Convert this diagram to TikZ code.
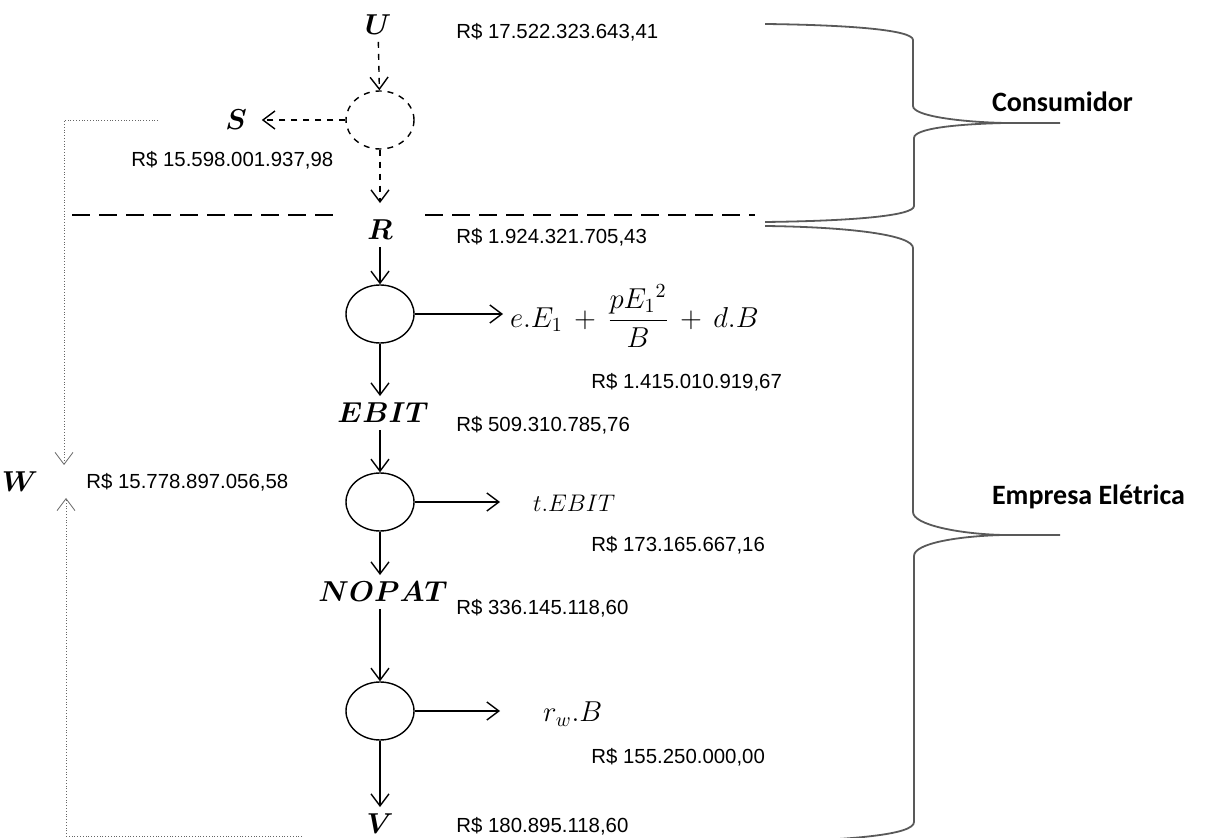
\documentclass[tikz,border=0pt]{standalone}
\usepackage{amsmath}
\usepackage{fontspec}
\setmainfont{Liberation Sans}
\newfontfamily\calibri{Carlito}
\usetikzlibrary{arrows.meta,shapes.geometric}
\newcommand{\real}[1]{R\$ #1}
\newcommand{\bvar}[1]{$\boldsymbol{#1}$}

\begin{document}
\begin{tikzpicture}[x=0.5pt,y=-0.5pt,
  var/.style={font=\Large},
  money/.style={anchor=west,inner sep=0.5pt,font=\fontsize{10.2}{12}\selectfont},
  sum/.style={draw,line width=0.7pt,ellipse,inner sep=0pt,minimum width=34pt,minimum height=29pt},
  flow/.style={line width=0.7pt,-{Straight Barb[length=6pt,width=9pt]}},
  part/.style={anchor=west,font=\calibri\bfseries\fontsize{14}{16}\selectfont},
  brace/.style={draw=black!65,line width=0.9pt},
  feedback/.style={draw=black!60,densely dotted,-{Straight Barb[length=6pt,width=9pt]}}]
\useasboundingbox (0,0) rectangle (1208,838);

% consumer side
\node[var] (U) at (378,25) {\bvar{U}};
\node[sum,dashed] (c0) at (380,120) {};
\node[var] (S) at (236,120) {\bvar{S}};
\node[var] (R) at (380,230) {\bvar{R}};
\draw[flow,dashed] (U) -- (c0);
\draw[flow,dashed] (c0) -- (S) [shorten >=4pt];
\draw[flow,dashed,shorten >=5pt] (c0) -- (R);

% border
\draw[line width=0.6pt,dash pattern=on 9pt off 4.5pt] (72,215) -- (333,215)
                                                     (425,215) -- (755,215);

% company side
\node[sum] (c1) at (380,314) {};
\node[var] (EBIT) at (383,413) {\bvar{EBIT}};
\node[sum] (c2) at (380,502) {};
\node[var] (NOPAT) at (383,592) {\bvar{NOPAT}};
\node[sum] (c3) at (380,711) {};
\node[var] (V) at (380,824) {\bvar{V}};
\draw[flow] (R) -- (c1);
\draw[flow] (c1.south) -- (c1.south |- EBIT.north);
\draw[flow] (EBIT.south -| c2) -- (c2);
\draw[flow] (c2.south) -- (c2.south |- NOPAT.north);
\draw[flow] (NOPAT.south -| c3) -- (c3);
\draw[flow] (c3) -- (V);

% outflows
\node[anchor=west,font=\Large] (f1) at (503,316) {$e.E_1 \,+\, \dfrac{pE_1{}^2}{B} \,+\, d.B$};
\node[anchor=west,font=\large] (f2) at (526,503) {$t.EBIT$};
\node[anchor=west,font=\Large] (f3) at (536,714) {$r_w.B$};
\draw[flow] (c1.east) -- (c1.east -| f1.west);
\draw[flow,shorten >=13pt] (c2.east) -- (c2.east -| f2.west);
\draw[flow,shorten >=18pt] (c3.east) -- (c3.east -| f3.west);

% values
\node[money] (vU) at (455,32) {\real{17.522.323.643,41}};
\node[money] (vS) at (130,160) {\real{15.598.001.937,98}};
\node[money] (vR) at (455,237) {\real{1.924.321.705,43}};
\node[money] (vf1) at (590,382) {\real{1.415.010.919,67}};
\node[money] (vEBIT) at (455,425) {\real{509.310.785,76}};
\node[money] (vf2) at (590,545) {\real{173.165.667,16}};
\node[money] (vNOPAT) at (455,608) {\real{336.145.118,60}};
\node[money] (vf3) at (590,757) {\real{155.250.000,00}};
\node[money] (vV) at (455,826) {\real{180.895.118,60}};

% W and its inflows
\node[var] (W) at (20,482) {\bvar{W}};
\node[money] (vW) at (85,482) {\real{15.778.897.056,58}};
\coordinate (s0) at (158,120);
\coordinate (w0) at (64,465);
\coordinate (v0) at (302,836);
\coordinate (w1) at (66,498);
\draw[feedback] (s0) -- (s0 -| w0) -- (w0);
\draw[feedback] (v0) -- (v0 -| w1) -- (w1);

% braces
\draw[brace] (765,24) .. controls (850,25) and (913,30) .. (913,40) -- (913,106)
             .. controls (913,116) and (960,122) .. (1005,123) -- (1060,123);
\draw[brace] (1005,123) .. controls (960,124) and (914,128) .. (914,138) -- (914,206)
             .. controls (914,216) and (850,221) .. (765,222);
\draw[brace] (765,226) .. controls (850,227) and (913,235) .. (913,248) -- (913,512)
             .. controls (913,525) and (960,534) .. (1003,535) -- (1060,535);
\draw[brace] (1003,535) .. controls (960,536) and (914,543) .. (914,556) -- (914,822)
             .. controls (914,835) and (850,840) .. (765,842);
\node[part] (cons) at (985,102) {Consumidor};
\node[part] (emp) at (985,497) {Empresa Elétrica};
\end{tikzpicture}
\end{document}
